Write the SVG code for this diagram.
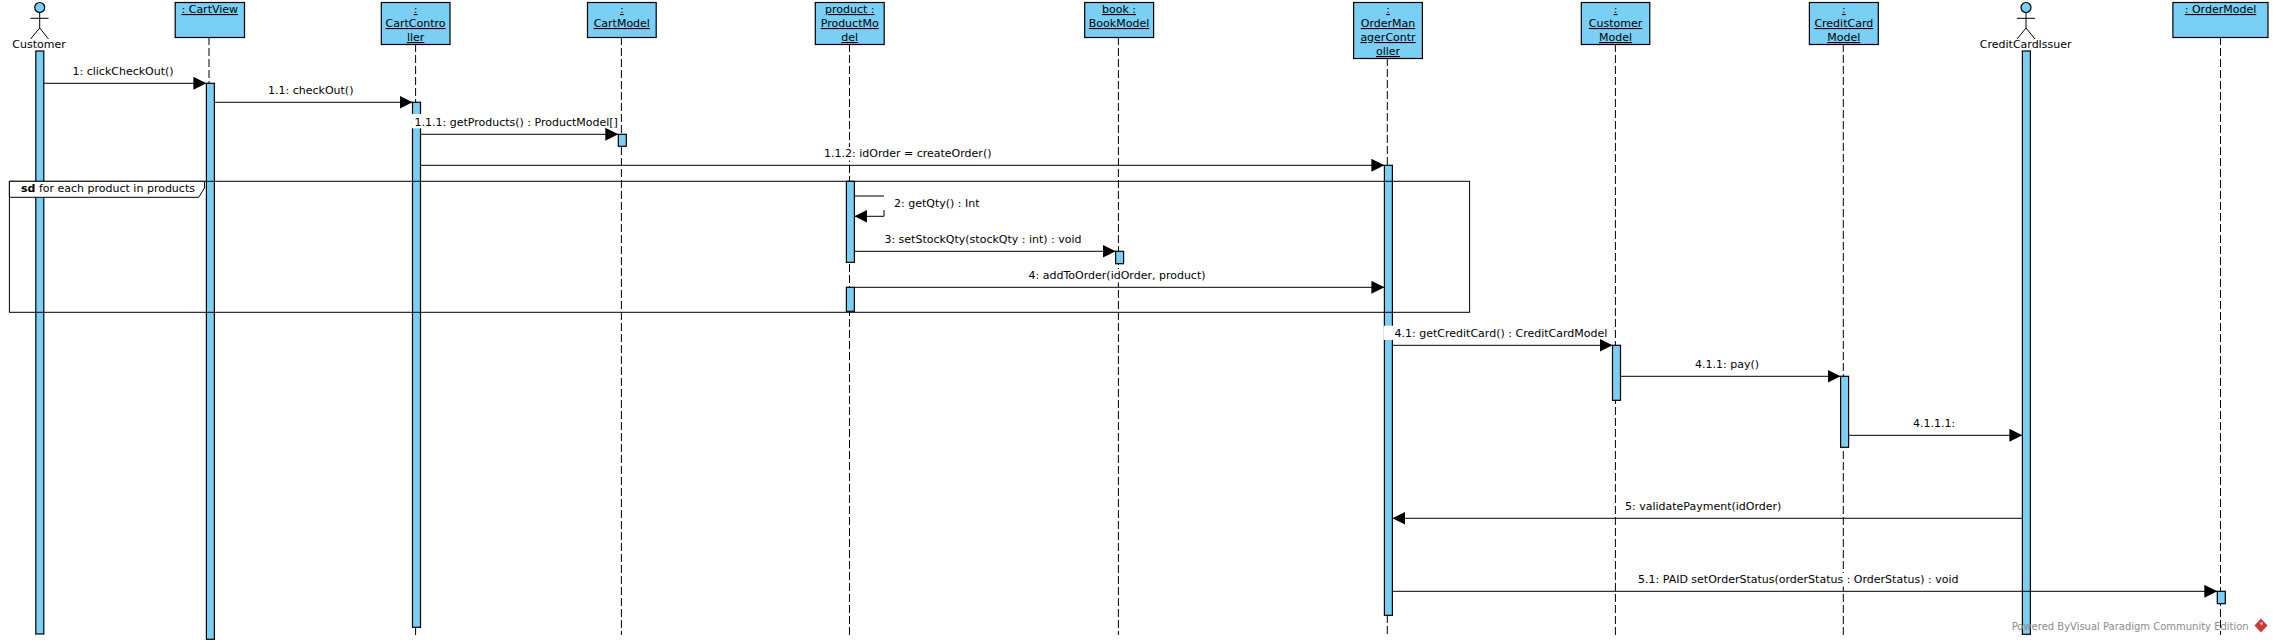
<svg xmlns="http://www.w3.org/2000/svg" width="2273" height="643" viewBox="0 0 2273 643">
<style>
text{font-family:"DejaVu Sans",sans-serif;font-size:11px;fill:#000}
.nm{text-anchor:middle;text-decoration:underline}
.box,.act,.head{fill:#7acff5;stroke:#000;stroke-width:1.2}
.life{stroke:#000;stroke-width:1;stroke-dasharray:8 3;fill:none}
.st{stroke:#000;stroke-width:1;fill:none}
.msg{stroke:#000;stroke-width:1;fill:none;marker-end:url(#tip)}
.lb{fill:#fff;stroke:none}
.frame{fill:none;stroke:#000;stroke-width:1}
</style>
<defs>
<marker id="tip" markerUnits="userSpaceOnUse" markerWidth="14" markerHeight="14" refX="13" refY="6.5" orient="auto"><path d="M0 0L13 6.5L0 13z" fill="#000"/></marker>
</defs>
<rect width="2273" height="643" fill="#fff"/>
<g id="lifelines">
<path class="life" d="M209 37V112"/>
<path class="life" d="M415.6 44V102"/>
<path class="st" d="M415.6 627V635"/>
<path class="life" d="M621.4 37V635"/>
<path class="life" d="M849.5 44V635"/>
<path class="life" d="M1118.4 37V635"/>
<path class="life" d="M1387.3 58V165M1387.3 615V635"/>
<path class="life" d="M1615.4 44V635"/>
<path class="life" d="M1843.3 44V635"/>
<path class="life" d="M2220.5 37V635"/>
</g>
<g id="customer">
<circle class="head" cx="39.7" cy="7.5" r="5"/>
<path class="st" d="M30.5 18.3H48.5M39.7 12.5V28M39.7 28L30.5 39M39.7 28L48.5 39"/>
<rect class="act" x="35.8" y="51" width="8" height="583"/>
<text x="39" y="47.5" text-anchor="middle">Customer</text>
</g>
<g id="cartview">
<rect class="box" x="175.2" y="2.5" width="69.3" height="35"/>
<text class="nm" x="209.8" y="13">: CartView</text>
<rect class="act" x="206.4" y="83.3" width="8" height="556"/>
</g>
<g id="cartcontroller">
<rect class="box" x="381.3" y="2.5" width="68.7" height="42"/>
<text class="nm" x="415.6" y="13">:</text>
<text class="nm" x="415.6" y="27">CartContro</text>
<text class="nm" x="415.6" y="41">ller</text>
<rect class="act" x="412.5" y="102.3" width="8" height="525"/>
</g>
<g id="cartmodel">
<rect class="box" x="587.5" y="2.5" width="68.7" height="35"/>
<text class="nm" x="621.8" y="13">:</text>
<text class="nm" x="621.8" y="27">CartModel</text>
<rect class="act" x="618.3" y="134.3" width="8" height="12"/>
</g>
<g id="productmodel">
<rect class="box" x="815.3" y="2.5" width="68.9" height="42"/>
<text class="nm" x="849.7" y="13">product :</text>
<text class="nm" x="849.7" y="27">ProductMo</text>
<text class="nm" x="849.7" y="41">del</text>
<rect class="act" x="846.4" y="181.3" width="8" height="81"/>
<rect class="act" x="846.4" y="287.3" width="8" height="24"/>
</g>
<g id="bookmodel">
<rect class="box" x="1084.7" y="2.5" width="68.9" height="35"/>
<text class="nm" x="1119" y="13">book :</text>
<text class="nm" x="1119" y="27">BookModel</text>
<rect class="act" x="1115.6" y="251.3" width="8" height="12.4"/>
</g>
<g id="ordermanagercontroller">
<rect class="box" x="1353.6" y="2.5" width="68.8" height="56"/>
<text class="nm" x="1388" y="13">:</text>
<text class="nm" x="1388" y="27">OrderMan</text>
<text class="nm" x="1388" y="41">agerContr</text>
<text class="nm" x="1388" y="55">oller</text>
<rect class="act" x="1384.4" y="165.3" width="8" height="450"/>
</g>
<g id="customermodel">
<rect class="box" x="1581.3" y="2.5" width="68.5" height="42"/>
<text class="nm" x="1615.5" y="13">:</text>
<text class="nm" x="1615.5" y="27">Customer</text>
<text class="nm" x="1615.5" y="41">Model</text>
<rect class="act" x="1612.5" y="345.3" width="8" height="55"/>
</g>
<g id="creditcardmodel">
<rect class="box" x="1809.4" y="2.5" width="68.9" height="42"/>
<text class="nm" x="1843.8" y="13">:</text>
<text class="nm" x="1843.8" y="27">CreditCard</text>
<text class="nm" x="1843.8" y="41">Model</text>
<rect class="act" x="1840.6" y="376.3" width="8" height="71"/>
</g>
<g id="creditcardissuer">
<circle class="head" cx="2026" cy="7.5" r="5"/>
<path class="st" d="M2017 18.3H2035M2026 12.5V28M2026 28L2017 39M2026 28L2035 39"/>
<rect class="act" x="2022.4" y="51" width="8" height="583.3"/>
<text x="2025.7" y="47.5" text-anchor="middle">CreditCardIssuer</text>
</g>
<g id="ordermodel">
<rect class="box" x="2172.9" y="2.5" width="95.1" height="35"/>
<text class="nm" x="2220.5" y="13">: OrderModel</text>
<rect class="act" x="2217.3" y="591.3" width="8" height="12.4"/>
</g>
<g id="frame">
<rect class="frame" x="9.4" y="181.3" width="1460.2" height="131"/>
<path d="M9.4 181.3H204.5V188L198.7 197.3H9.4z" fill="#fff" stroke="#000" stroke-width="1"/>
<text x="21" y="191.7"><tspan font-weight="bold">sd</tspan> for each product in products</text>
</g>
<g id="connectors">
<path class="msg" d="M43.8 83.3H206.4"/>
<text x="72.5" y="75">1: clickCheckOut()</text>
<path class="msg" d="M214.4 102.3H412.5"/>
<text x="268" y="94">1.1: checkOut()</text>
<rect class="lb" x="411.5" y="114" width="208.5" height="14.3"/>
<path class="msg" d="M420.5 134.3H618.3"/>
<text x="414.5" y="126">1.1.1: getProducts() : ProductModel[]</text>
<rect class="lb" x="822" y="147" width="172" height="13.5"/>
<path class="msg" d="M420.5 165.3H1384.4"/>
<text x="824" y="156.7">1.1.2: idOrder = createOrder()</text>
<path class="st" d="M854.4 196H884"/>
<path class="st" d="M884 210V216.3"/>
<path class="msg" d="M884 216.3H854.4"/>
<text x="894" y="206.7">2: getQty() : Int</text>
<path class="msg" d="M854.4 251.3H1115.6"/>
<text x="884.4" y="242.7">3: setStockQty(stockQty : int) : void</text>
<rect class="lb" x="1027" y="269" width="182" height="13.5"/>
<path class="msg" d="M854.4 287.3H1384.4"/>
<text x="1028.6" y="278.7">4: addToOrder(idOrder, product)</text>
<rect class="lb" x="1383.6" y="325.7" width="227" height="14.3"/>
<path class="msg" d="M1392.4 345.3H1612.5"/>
<text x="1394.6" y="336.7">4.1: getCreditCard() : CreditCardModel</text>
<path class="msg" d="M1620.5 376.3H1840.6"/>
<text x="1695" y="368">4.1.1: pay()</text>
<path class="msg" d="M1848.6 435.3H2022.4"/>
<text x="1913" y="427">4.1.1.1:</text>
<path class="msg" d="M2022.4 518.3H1392.4"/>
<text x="1625" y="509.7">5: validatePayment(idOrder)</text>
<rect class="lb" x="1636" y="573" width="325" height="13.5"/>
<path class="msg" d="M1392.4 591.3H2217.3"/>
<text x="1638" y="582.7">5.1: PAID setOrderStatus(orderStatus : OrderStatus) : void</text>
</g>
<g id="watermark">
<text x="2011.7" y="630" textLength="237" lengthAdjust="spacingAndGlyphs" style="fill:#8c8c8c;font-size:10.5px">Powered ByVisual Paradigm Community Edition</text>
<path d="M2261 618.5L2267.5 625.5L2261 632.5L2254.5 625.5z" fill="#c8393b"/>
<path d="M2259.5 622.5L2263 622.5L2262 626z" fill="#f3c6c6"/>
</g>
</svg>
